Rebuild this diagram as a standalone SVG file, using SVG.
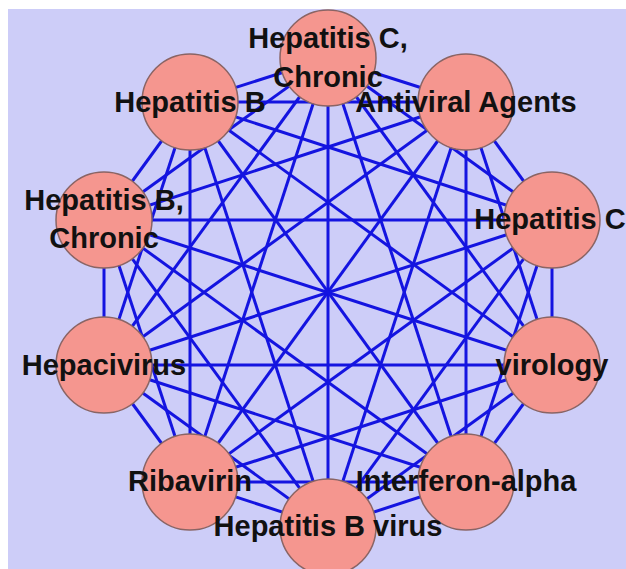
<svg xmlns="http://www.w3.org/2000/svg" width="626" height="569" viewBox="0 0 626 569">
<style>
.e{stroke:#1414e0;stroke-width:3;}
.n{fill:#f5968f;stroke:#8a6464;stroke-width:1.5;}
.t{font-family:"Liberation Sans",Arial,sans-serif;font-weight:bold;font-size:29px;fill:#111;text-anchor:middle;}
</style>
<rect x="0" y="0" width="626" height="569" fill="#ffffff"/>
<rect x="8" y="9" width="618" height="560" fill="#cdcdf8"/>
<g id="connectors">
<line class="e" x1="328" y1="58" x2="466" y2="102"/>
<line class="e" x1="328" y1="58" x2="552" y2="220"/>
<line class="e" x1="328" y1="58" x2="552" y2="365"/>
<line class="e" x1="328" y1="58" x2="466" y2="482"/>
<line class="e" x1="328" y1="58" x2="328" y2="527"/>
<line class="e" x1="328" y1="58" x2="190" y2="482"/>
<line class="e" x1="328" y1="58" x2="104" y2="365"/>
<line class="e" x1="328" y1="58" x2="104" y2="220"/>
<line class="e" x1="328" y1="58" x2="190" y2="102"/>
<line class="e" x1="466" y1="102" x2="552" y2="220"/>
<line class="e" x1="466" y1="102" x2="552" y2="365"/>
<line class="e" x1="466" y1="102" x2="466" y2="482"/>
<line class="e" x1="466" y1="102" x2="328" y2="527"/>
<line class="e" x1="466" y1="102" x2="190" y2="482"/>
<line class="e" x1="466" y1="102" x2="104" y2="365"/>
<line class="e" x1="466" y1="102" x2="104" y2="220"/>
<line class="e" x1="466" y1="102" x2="190" y2="102"/>
<line class="e" x1="552" y1="220" x2="552" y2="365"/>
<line class="e" x1="552" y1="220" x2="466" y2="482"/>
<line class="e" x1="552" y1="220" x2="328" y2="527"/>
<line class="e" x1="552" y1="220" x2="190" y2="482"/>
<line class="e" x1="552" y1="220" x2="104" y2="365"/>
<line class="e" x1="552" y1="220" x2="104" y2="220"/>
<line class="e" x1="552" y1="220" x2="190" y2="102"/>
<line class="e" x1="552" y1="365" x2="466" y2="482"/>
<line class="e" x1="552" y1="365" x2="328" y2="527"/>
<line class="e" x1="552" y1="365" x2="190" y2="482"/>
<line class="e" x1="552" y1="365" x2="104" y2="365"/>
<line class="e" x1="552" y1="365" x2="104" y2="220"/>
<line class="e" x1="552" y1="365" x2="190" y2="102"/>
<line class="e" x1="466" y1="482" x2="328" y2="527"/>
<line class="e" x1="466" y1="482" x2="190" y2="482"/>
<line class="e" x1="466" y1="482" x2="104" y2="365"/>
<line class="e" x1="466" y1="482" x2="104" y2="220"/>
<line class="e" x1="466" y1="482" x2="190" y2="102"/>
<line class="e" x1="328" y1="527" x2="190" y2="482"/>
<line class="e" x1="328" y1="527" x2="104" y2="365"/>
<line class="e" x1="328" y1="527" x2="104" y2="220"/>
<line class="e" x1="328" y1="527" x2="190" y2="102"/>
<line class="e" x1="190" y1="482" x2="104" y2="365"/>
<line class="e" x1="190" y1="482" x2="104" y2="220"/>
<line class="e" x1="190" y1="482" x2="190" y2="102"/>
<line class="e" x1="104" y1="365" x2="104" y2="220"/>
<line class="e" x1="104" y1="365" x2="190" y2="102"/>
<line class="e" x1="104" y1="220" x2="190" y2="102"/>
</g>
<g id="n0"><circle class="n" cx="328" cy="58" r="48"/></g>
<g id="n1"><circle class="n" cx="466" cy="102" r="48"/></g>
<g id="n2"><circle class="n" cx="552" cy="220" r="48"/></g>
<g id="n3"><circle class="n" cx="552" cy="365" r="48"/></g>
<g id="n4"><circle class="n" cx="466" cy="482" r="48"/></g>
<g id="n5"><circle class="n" cx="328" cy="527" r="48"/></g>
<g id="n6"><circle class="n" cx="190" cy="482" r="48"/></g>
<g id="n7"><circle class="n" cx="104" cy="365" r="48"/></g>
<g id="n8"><circle class="n" cx="104" cy="220" r="48"/></g>
<g id="n9"><circle class="n" cx="190" cy="102" r="48"/></g>
<g id="labels">
<text class="t" x="328" y="48">Hepatitis C,</text>
<text class="t" x="328" y="87">Chronic</text>
<text class="t" x="466" y="112">Antiviral Agents</text>
<text class="t" x="550" y="229">Hepatitis C</text>
<text class="t" x="552" y="375">virology</text>
<text class="t" x="466" y="491">Interferon-alpha</text>
<text class="t" x="328" y="536">Hepatitis B virus</text>
<text class="t" x="190" y="491">Ribavirin</text>
<text class="t" x="104" y="375">Hepacivirus</text>
<text class="t" x="104" y="210">Hepatitis B,</text>
<text class="t" x="104" y="248">Chronic</text>
<text class="t" x="190" y="112">Hepatitis B</text>
</g>
</svg>
